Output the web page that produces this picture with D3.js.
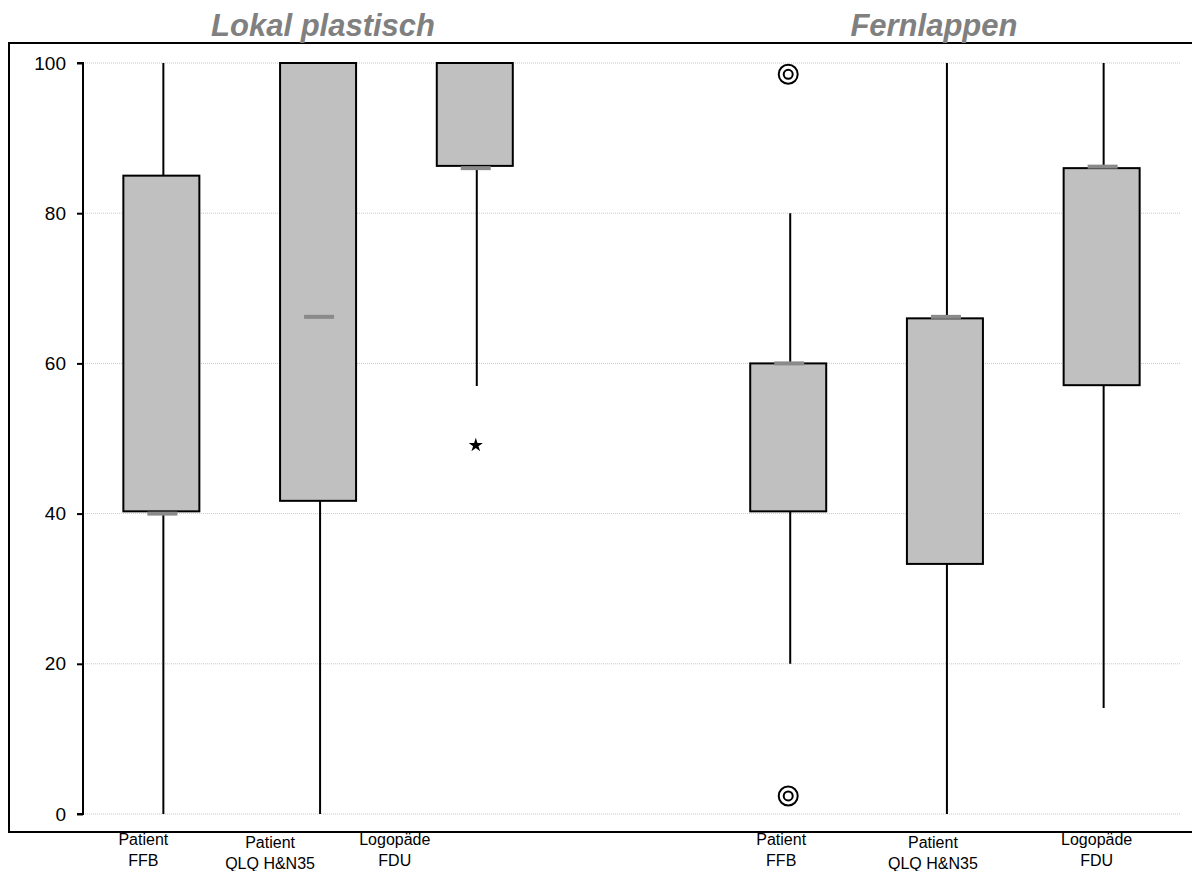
<!DOCTYPE html>
<html>
<head>
<meta charset="utf-8">
<script src="https://cdn.jsdelivr.net/npm/d3@7"></script>
<style>
  html, body { margin: 0; padding: 0; background: #fff; overflow: hidden; }
  svg { display: block; font-family: "Liberation Sans", Arial, sans-serif; }
</style>
</head>
<body>
<svg id="chart" width="1192" height="871"></svg>
<script>
// ---- data ----
const groupTitles = ["Lokal plastisch", "Fernlappen"];
const slots = ["L1", "L2", "L3", "gap", "F1", "F2", "F3"];
const boxSlots = ["L1", "L2", "L3", "F1", "F2", "F3"];
const labelLine1 = ["Patient", "Patient", "Logopäde", "Patient", "Patient", "Logopäde"];
const labelLine2 = ["FFB", "QLQ H&N35", "FDU", "FFB", "QLQ H&N35", "FDU"];
const whiskerLow = [0, 0, 57, 20, 0, 14.1];
const q1Values = [40.3, 41.7, 86.3, 40.3, 33.3, 57.1];
const medianValues = [40, 66.2, 86, 60, 66.2, 86.2];
const q3Values = [85, 100, 100, 60, 66, 86];
const whiskerHigh = [100, 100, 100, 80, 100, 100];
const outlierSlot = ["L3", "F1", "F1"];
const outlierValue = [49.1, 98.5, 2.4];
const outlierKind = ["extreme", "outlier", "outlier"];
const yTicks = [0, 20, 40, 60, 80, 100];

// ---- layout ----
const svg = d3.select("#chart");
const plotLeft = 83, plotRight = 1180, yTop = 63, yBottom = 814;
const labelShift = [-18, -48, -80, -7, -12, -5];
const titleShift = [5, -11];

const x = d3.scaleBand().domain(slots).range([plotLeft, plotRight]).padding(0);
const y = d3.scaleLinear().domain([0, 100]).range([yBottom, yTop]);
const boxW = x.bandwidth() * 0.485;
const cx = s => x(s) + x.bandwidth() / 2;

// frame: top, left, bottom (right edge lies outside the picture)
svg.append("path")
  .attr("d", "M1192,43H9V832H1192")
  .attr("fill", "none").attr("stroke", "#000").attr("stroke-width", 2);

// gridlines
svg.append("g").selectAll("line").data(yTicks).join("line")
  .attr("x1", plotLeft).attr("x2", plotRight)
  .attr("y1", d => y(d)).attr("y2", d => y(d))
  .attr("stroke", "#c8c8c8").attr("stroke-width", 1)
  .attr("stroke-dasharray", "1,1");

// y axis
const yAxis = d3.axisLeft(y).tickValues(yTicks).tickSize(6).tickPadding(11);
const ga = svg.append("g").attr("transform", `translate(${plotLeft},0)`).call(yAxis);
ga.select(".domain").attr("stroke", "#000").attr("stroke-width", 2).attr("d", `M-6,${yTop}H0V${yBottom}H-6`);
ga.selectAll(".tick line").attr("stroke", "#000").attr("stroke-width", 2);
ga.selectAll(".tick text").attr("font-size", 19).attr("fill", "#000")
  .attr("font-family", "Liberation Sans, Arial, sans-serif");

// whiskers
const gw = svg.append("g");
boxSlots.forEach((s, i) => {
  gw.append("line")
    .attr("x1", cx(s) + 2).attr("x2", cx(s) + 2)
    .attr("y1", y(whiskerLow[i])).attr("y2", y(whiskerHigh[i]))
    .attr("stroke", "#000").attr("stroke-width", 2);
});

// boxes
const gb = svg.append("g");
boxSlots.forEach((s, i) => {
  gb.append("rect")
    .attr("x", cx(s) - boxW / 2)
    .attr("y", y(q3Values[i]))
    .attr("width", boxW)
    .attr("height", y(q1Values[i]) - y(q3Values[i]))
    .attr("fill", "#c0c0c0").attr("stroke", "#000").attr("stroke-width", 2);
});

// medians
boxSlots.forEach((s, i) => {
  gb.append("rect")
    .attr("x", cx(s) - 15 + 1)
    .attr("y", y(medianValues[i]) - 2)
    .attr("width", 30).attr("height", 4)
    .attr("fill", "#8a8a8a");
});

// outliers
const go = svg.append("g");
outlierSlot.forEach((s, i) => {
  const px = cx(s), py = y(outlierValue[i]);
  if (outlierKind[i] === "extreme") {
    go.append("path")
      .attr("d", d3.symbol().type(d3.symbolStar).size(62)())
      .attr("transform", `translate(${px + 1},${py})`)
      .attr("fill", "#000");
  } else {
    go.append("circle").attr("cx", px).attr("cy", py).attr("r", 9.5)
      .attr("fill", "none").attr("stroke", "#000").attr("stroke-width", 2);
    go.append("circle").attr("cx", px).attr("cy", py).attr("r", 4.5)
      .attr("fill", "none").attr("stroke", "#000").attr("stroke-width", 2);
  }
});

// category labels
const gl = svg.append("g").attr("font-size", 16).attr("fill", "#000").attr("text-anchor", "middle");
boxSlots.forEach((s, i) => {
  const lx = cx(s) + labelShift[i];
  const dy = (labelLine2[i].startsWith("QLQ")) ? 3 : 0;
  gl.append("text").attr("x", lx).attr("y", 845 + dy).text(labelLine1[i]);
  gl.append("text").attr("x", lx).attr("y", 866 + dy).text(labelLine2[i]);
});

// group titles
const groupCenters = [cx("L2"), cx("F2")];
svg.append("g").selectAll("text").data(groupTitles).join("text")
  .attr("x", (d, i) => groupCenters[i] + titleShift[i])
  .attr("y", 36)
  .attr("text-anchor", "middle")
  .attr("font-size", 31).attr("font-weight", "bold").attr("font-style", "italic")
  .attr("fill", "#808080")
  .text(d => d);
</script>
</body>
</html>
